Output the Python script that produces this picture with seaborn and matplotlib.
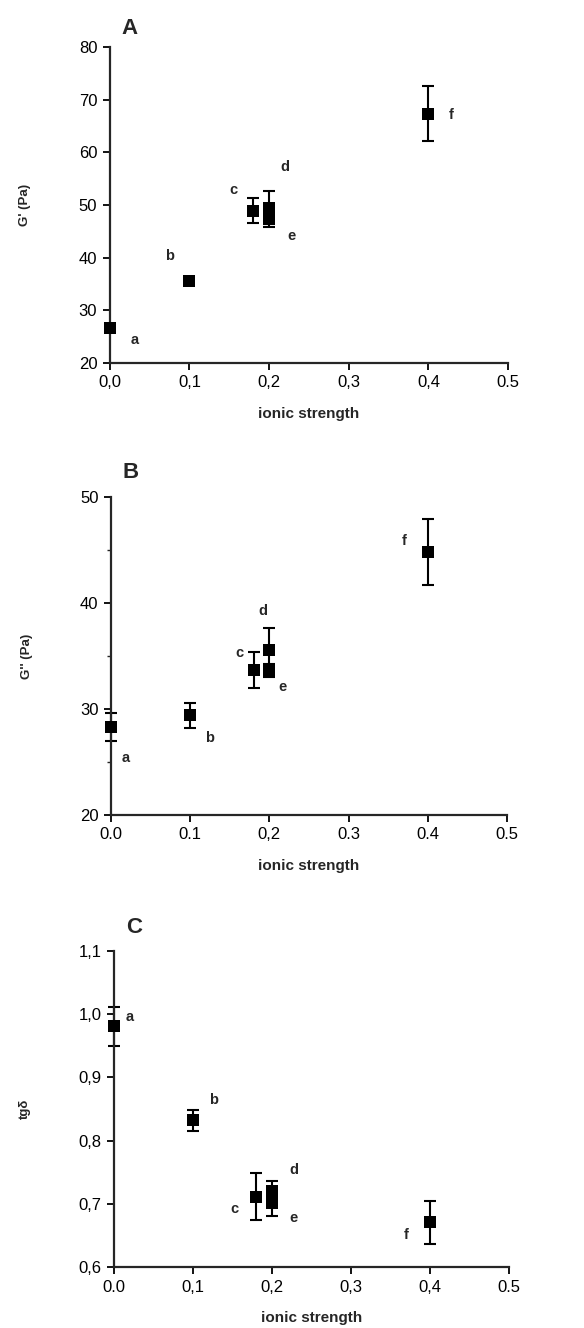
import matplotlib
matplotlib.use("Agg")
import matplotlib.pyplot as plt
import seaborn as sns
import pandas as pd

# ---- data ----
labels = ["a", "b", "c", "d", "e", "f"]
ionic = [0.0, 0.1, 0.18, 0.2, 0.2, 0.4]

g1_vals = [26.6, 35.5, 48.9, 49.5, 47.6, 67.3]
g1_err = [0.0, 0.0, 2.4, 3.2, 1.8, 5.2]
g1_lab_x = [0.031, 0.075, 0.155, 0.22, 0.228, 0.429]
g1_lab_y = [24.3, 40.3, 52.9, 57.2, 44.1, 67.1]

g2_vals = [28.3, 29.4, 33.7, 35.6, 33.6, 44.8]
g2_err = [1.35, 1.2, 1.7, 2.0, 0.6, 3.1]
g2_lab_x = [0.019, 0.124, 0.162, 0.192, 0.216, 0.37]
g2_lab_y = [25.4, 27.3, 35.3, 39.2, 32.1, 45.8]

tg_vals = [0.981, 0.832, 0.711, 0.720, 0.701, 0.671]
tg_err = [0.031, 0.017, 0.037, 0.016, 0.021, 0.034]
tg_lab_x = [0.02, 0.126, 0.152, 0.227, 0.227, 0.37]
tg_lab_y = [0.996, 0.865, 0.692, 0.753, 0.677, 0.650]

x_ticks = [0.0, 0.1, 0.2, 0.3, 0.4, 0.5]
xt_A = ["0,0", "0,1", "0,2", "0,3", "0,4", "0.5"]
xt_B = ["0.0", "0.1", "0,2", "0.3", "0.4", "0.5"]
xt_C = ["0.0", "0,1", "0,2", "0,3", "0,4", "0.5"]

yt_A = [20, 30, 40, 50, 60, 70, 80]
yt_B = [20, 30, 40, 50]
yt_B_minor = [25, 35, 45]
yt_C = [0.6, 0.7, 0.8, 0.9, 1.0, 1.1]
yt_C_lab = ["0,6", "0,7", "0,8", "0,9", "1,0", "1,1"]

sns.set_style("ticks")
plt.rcParams["font.family"] = ["Liberation Sans", "DejaVu Sans"]

fig = plt.figure(figsize=(5.84, 13.28), dpi=100)
axA = fig.add_axes([0.188, 0.7267, 0.682, 0.238])
axB = fig.add_axes([0.190, 0.3863, 0.678, 0.2395])
axC = fig.add_axes([0.195, 0.0459, 0.677, 0.238])

panels = [
    (axA, g1_vals, g1_err, g1_lab_x, g1_lab_y, "A", "G' (Pa)", (20, 80), yt_A, [str(v) for v in yt_A], xt_A, 1.025),
    (axB, g2_vals, g2_err, g2_lab_x, g2_lab_y, "B", "G'' (Pa)", (20, 50), yt_B, [str(v) for v in yt_B], xt_B, 1.045),
    (axC, tg_vals, tg_err, tg_lab_x, tg_lab_y, "C", "tgδ", (0.6, 1.1), yt_C, yt_C_lab, xt_C, 1.04),
]

for ax, vals, errs, lx, ly, title, ylab, ylim, yt, ytl, xtl, ty in panels:
    df = pd.DataFrame({"x": ionic, "y": vals, "err": errs})
    ax.errorbar(df["x"], df["y"], yerr=df["err"], fmt="none", ecolor="black",
                elinewidth=1.5, capsize=4.5, capthick=1.5, zorder=2, clip_on=False)
    sns.scatterplot(data=df, x="x", y="y", marker="s", s=75, color="black",
                    edgecolor="black", linewidth=0, ax=ax, zorder=3, clip_on=False)
    for t, xx, yy in zip(labels, lx, ly):
        ax.text(xx, yy, t, fontsize=10.5, fontweight="bold", ha="center", va="center")
    ax.set_xlim(0, 0.5)
    ax.set_ylim(*ylim)
    ax.set_xticks(x_ticks)
    ax.set_xticklabels(xtl, fontsize=12)
    ax.set_yticks(yt)
    ax.set_yticklabels(ytl, fontsize=12)
    ax.set_xlabel("ionic strength", fontsize=11, fontweight="bold", labelpad=12)
    ax.set_ylabel(ylab, fontsize=9.5, fontweight="bold", labelpad=34)
    ax.text(0.03, ty, title, transform=ax.transAxes, fontsize=16,
            fontweight="bold", ha="left", va="bottom")
    sns.despine(ax=ax)
    for s in ["left", "bottom"]:
        ax.spines[s].set_linewidth(1.6)
    ax.tick_params(axis="both", direction="out", width=1.3, length=5, colors="black",
                   pad=4)
    ax.grid(False)

axB.set_yticks(yt_B_minor, minor=True)
axB.tick_params(axis="y", which="minor", length=3, width=1.0)

fig.savefig("out.png", dpi=100)
